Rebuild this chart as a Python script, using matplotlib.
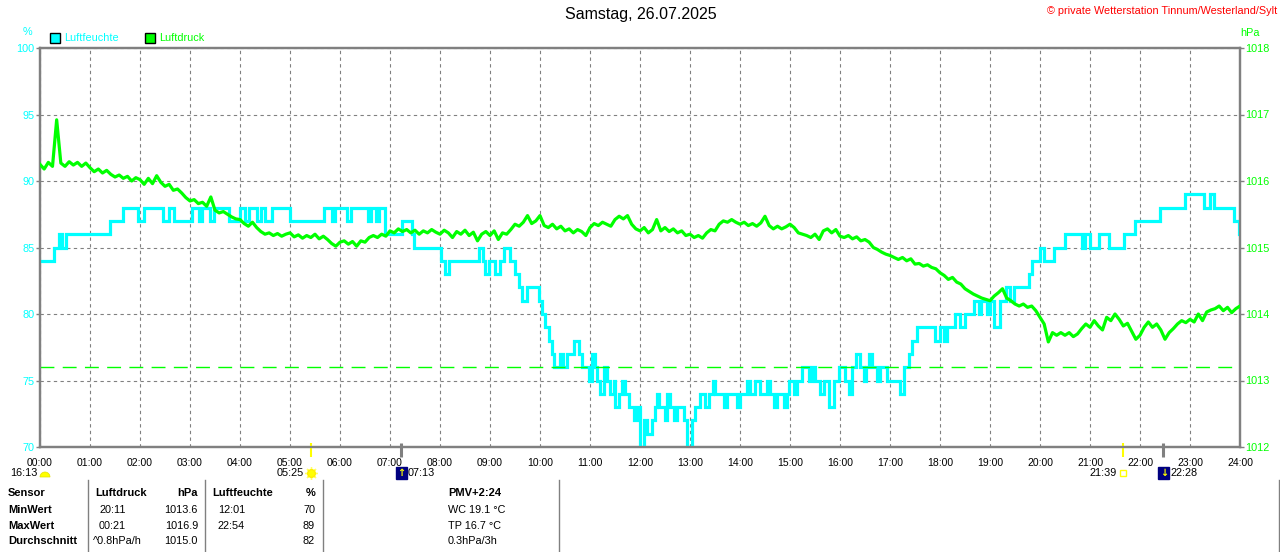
import numpy as np
import matplotlib
matplotlib.use("Agg")
import matplotlib.pyplot as plt
from matplotlib.patches import Rectangle, Wedge
from matplotlib.transforms import blended_transform_factory, offset_copy

plt.rcParams['font.family'] = ['Liberation Sans', 'DejaVu Sans']

CYAN = '#00ffff'
GREEN = '#00ff00'
GRAY = '#808080'

# Luftfeuchte (%) as steps: hour of change, new value
hum_t = [0.00, 0.27, 0.37, 0.43, 0.52, 1.40, 1.65, 1.95, 2.07, 2.45,
         2.57, 2.68, 3.03, 3.17, 3.23, 3.40, 3.47, 3.77, 3.99, 4.10,
         4.17, 4.33, 4.41, 4.50, 4.63, 5.00, 5.68, 5.83, 5.90, 6.13,
         6.21, 6.55, 6.62, 6.72, 6.78, 6.90, 7.23, 7.43, 7.47, 8.03,
         8.10, 8.17, 8.77, 8.87, 8.90, 8.97, 9.10, 9.20, 9.27, 9.40,
         9.50, 9.57, 9.63, 9.73, 9.97, 10.03, 10.10, 10.17, 10.23, 10.28,
         10.40, 10.45, 10.53, 10.67, 10.78, 10.83, 10.97, 11.03, 11.10, 11.13,
         11.20, 11.27, 11.33, 11.40, 11.47, 11.50, 11.57, 11.63, 11.70, 11.77,
         11.87, 11.93, 12.00, 12.07, 12.13, 12.23, 12.30, 12.33, 12.37, 12.50,
         12.53, 12.59, 12.67, 12.73, 12.87, 12.93, 13.03, 13.10, 13.20, 13.30,
         13.37, 13.45, 13.50, 13.67, 13.73, 13.93, 14.00, 14.13, 14.20, 14.30,
         14.40, 14.53, 14.60, 14.67, 14.73, 14.87, 14.93, 14.97, 15.07, 15.13,
         15.23, 15.37, 15.43, 15.50, 15.60, 15.67, 15.77, 15.87, 15.97, 16.10,
         16.17, 16.23, 16.33, 16.40, 16.47, 16.52, 16.57, 16.63, 16.73, 16.80,
         16.93, 17.20, 17.28, 17.37, 17.43, 17.53, 17.90, 18.00, 18.07, 18.13,
         18.30, 18.40, 18.50, 18.67, 18.77, 18.83, 18.93, 19.00, 19.07, 19.19,
         19.33, 19.40, 19.47, 19.77, 19.83, 19.99, 20.07, 20.27, 20.50, 20.83,
         20.90, 21.00, 21.17, 21.37, 21.67, 21.90, 22.40, 22.90, 23.27, 23.39,
         23.48, 23.88, 23.97, 24.00]
hum_v = [84, 85, 86, 85, 86, 87, 88, 87, 88, 87,
         88, 87, 88, 87, 88, 87, 88, 87, 88, 87,
         88, 87, 88, 87, 88, 87, 88, 87, 88, 87,
         88, 87, 88, 87, 88, 86, 87, 86, 85, 84,
         83, 84, 85, 84, 83, 84, 83, 84, 85, 84,
         83, 82, 81, 82, 81, 80, 79, 78, 77, 76,
         77, 76, 77, 78, 77, 76, 75, 77, 76, 75,
         74, 76, 75, 74, 75, 73, 74, 75, 74, 73,
         72, 73, 70, 72, 71, 72, 73, 74, 73, 72,
         74, 73, 72, 73, 72, 70, 72, 73, 74, 73,
         74, 75, 74, 73, 74, 73, 74, 75, 74, 75,
         74, 75, 74, 73, 74, 73, 74, 75, 74, 75,
         76, 75, 76, 75, 74, 75, 73, 75, 76, 75,
         74, 76, 77, 76, 75, 76, 77, 76, 75, 76,
         75, 74, 76, 77, 78, 79, 78, 79, 78, 79,
         80, 79, 80, 81, 80, 81, 80, 81, 79, 81,
         82, 81, 82, 83, 84, 85, 84, 85, 86, 85,
         86, 85, 86, 85, 86, 87, 88, 89, 88, 89,
         88, 87, 86, 86]

# Luftdruck (hPa), one value every 5 minutes from 00:00 to 24:00
press = [
    1016.25, 1016.18, 1016.28, 1016.22, 1016.92, 1016.27, 1016.22, 1016.29, 1016.24, 1016.28, 1016.22, 1016.27,
    1016.20, 1016.14, 1016.18, 1016.12, 1016.16, 1016.10, 1016.06, 1016.09, 1016.04, 1016.07, 1016.00, 1016.05,
    1016.02, 1015.95, 1016.04, 1015.96, 1016.08, 1015.98, 1015.92, 1015.95, 1015.86, 1015.88, 1015.82, 1015.75,
    1015.70, 1015.72, 1015.66, 1015.68, 1015.62, 1015.76, 1015.56, 1015.52, 1015.54, 1015.50, 1015.46, 1015.43,
    1015.42, 1015.36, 1015.32, 1015.38, 1015.30, 1015.24, 1015.20, 1015.22, 1015.18, 1015.21, 1015.17, 1015.20,
    1015.22, 1015.16, 1015.19, 1015.14, 1015.18, 1015.15, 1015.20, 1015.13, 1015.17, 1015.12, 1015.06, 1015.02,
    1015.08, 1015.10, 1015.05, 1015.09, 1015.02, 1015.10, 1015.08, 1015.15, 1015.18, 1015.15, 1015.20, 1015.17,
    1015.25, 1015.22, 1015.28, 1015.24, 1015.27, 1015.22, 1015.26, 1015.20, 1015.25, 1015.22, 1015.27, 1015.23,
    1015.20, 1015.26, 1015.22, 1015.15, 1015.24, 1015.20, 1015.26, 1015.18, 1015.23, 1015.10, 1015.20, 1015.24,
    1015.18, 1015.25, 1015.12, 1015.22, 1015.20, 1015.27, 1015.35, 1015.32, 1015.38, 1015.48, 1015.36, 1015.40,
    1015.48, 1015.33, 1015.30, 1015.35, 1015.28, 1015.32, 1015.25, 1015.28, 1015.22, 1015.27, 1015.24, 1015.18,
    1015.30, 1015.36, 1015.33, 1015.38, 1015.35, 1015.32, 1015.42, 1015.47, 1015.43, 1015.48, 1015.35, 1015.28,
    1015.25, 1015.30, 1015.22, 1015.27, 1015.42, 1015.25, 1015.30, 1015.24, 1015.28, 1015.22, 1015.25, 1015.18,
    1015.20, 1015.15, 1015.18, 1015.14, 1015.22, 1015.27, 1015.25, 1015.35, 1015.40, 1015.38, 1015.42, 1015.38,
    1015.35, 1015.38, 1015.33, 1015.36, 1015.32, 1015.37, 1015.47, 1015.33, 1015.28, 1015.32, 1015.28, 1015.31,
    1015.35, 1015.30, 1015.22, 1015.20, 1015.18, 1015.15, 1015.20, 1015.12, 1015.25, 1015.28, 1015.22, 1015.27,
    1015.17, 1015.15, 1015.18, 1015.13, 1015.16, 1015.10, 1015.12, 1015.08, 1015.00, 1014.97, 1014.93, 1014.90,
    1014.88, 1014.85, 1014.82, 1014.85, 1014.80, 1014.83, 1014.75, 1014.76, 1014.72, 1014.74, 1014.70, 1014.68,
    1014.62, 1014.58, 1014.52, 1014.55, 1014.48, 1014.45, 1014.38, 1014.34, 1014.30, 1014.27, 1014.24, 1014.22,
    1014.20, 1014.27, 1014.32, 1014.38, 1014.24, 1014.20, 1014.15, 1014.12, 1014.15, 1014.10, 1014.12, 1014.05,
    1013.95, 1013.85, 1013.58, 1013.72, 1013.68, 1013.72, 1013.68, 1013.72, 1013.66, 1013.70, 1013.78, 1013.85,
    1013.80, 1013.90, 1013.82, 1013.76, 1013.95, 1013.90, 1014.00, 1013.92, 1013.82, 1013.86, 1013.74, 1013.62,
    1013.68, 1013.80, 1013.88, 1013.80, 1013.85, 1013.76, 1013.62, 1013.72, 1013.78, 1013.85, 1013.90, 1013.87,
    1013.92, 1013.88, 1014.00, 1013.90, 1014.03, 1014.06, 1014.08, 1014.12, 1014.05, 1014.10, 1014.02, 1014.08,
    1014.12]
press_ref = 1013.2

hour_labels = ['%02d:00' % h for h in range(25)]
hum_ticks = [70, 75, 80, 85, 90, 95, 100]
press_ticks = [1012, 1013, 1014, 1015, 1016, 1017, 1018]

# sun / moon events (hour)
sunrise, moonrise, sunset, moonset = 5 + 25/60, 7 + 13/60, 21 + 39/60, 22 + 28/60
day_length = '16:13'

table_rows = [
    ['Sensor', 'Luftdruck', 'hPa', 'Luftfeuchte', '%', 'PMV+2:24'],
    ['MinWert', '20:11', '1013.6', '12:01', '70', 'WC 19.1 °C'],
    ['MaxWert', '00:21', '1016.9', '22:54', '89', 'TP 16.7 °C'],
    ['Durchschnitt', '^0.8hPa/h', '1015.0', '', '82', '0.3hPa/3h'],
]

W, H = 1280, 552
fig = plt.figure(figsize=(W / 100, H / 100), dpi=100)
fig.patch.set_facecolor('white')

ax = fig.add_axes([40 / W, 1 - 447 / H, 1200 / W, 399 / H])
ax2 = ax.twinx()

# humidity
ax.plot(hum_t, hum_v, drawstyle='steps-post', color=CYAN, lw=2.3, zorder=3, solid_joinstyle='miter')
ax.set_xlim(0, 24)
ax.set_ylim(70, 100)

# pressure
pt = np.arange(len(press)) / 12
ax2.plot(pt, press, color=GREEN, lw=2.3, zorder=4)
ax2.axhline(press_ref, color=GREEN, lw=1.0, dashes=(10, 6), zorder=2)
ax2.set_ylim(1012, 1018)

ax.set_xticks(range(25))
ax.set_xticklabels(hour_labels, fontsize=7.5, color='black')
ax.set_yticks(hum_ticks)
ax.set_yticklabels([str(v) for v in hum_ticks], fontsize=7.8, color=CYAN)
ax2.set_yticks(press_ticks)
ax2.set_yticklabels([str(v) for v in press_ticks], fontsize=7.8, color=GREEN)
ax.tick_params(axis='x', length=0, pad=8)
ax.tick_params(axis='y', length=3, width=1, color=GRAY, pad=1)
ax2.tick_params(axis='y', length=3, width=1, color=GRAY, pad=1)
ax.grid(True, color=GRAY, lw=0.8, dashes=(3, 3))
ax.set_axisbelow(True)
for a in (ax, ax2):
    for s in a.spines.values():
        s.set_color(GRAY)
        s.set_linewidth(1.6)

# event markers on the time axis
xt = ax.get_xaxis_transform()
ax.vlines([sunrise, sunset], -10 / 399, 4 / 399, transform=xt, color='#ffff00', lw=1.5, clip_on=False, zorder=6)
ax.vlines([moonrise, moonset], -10 / 399, 4 / 399, transform=xt, color=GRAY, lw=2.2, clip_on=False, zorder=6)

# overlay in pixel coordinates for texts around the chart
ov = fig.add_axes([0, 0, 1, 1], zorder=-1)
ov.set_xlim(0, W)
ov.set_ylim(H, 0)
ov.axis('off')

ov.text(641, 15, 'Samstag, 26.07.2025', ha='center', va='center', fontsize=11.5, color='black')
ov.text(1277, 11, '© private Wetterstation Tinnum/Westerland/Sylt', ha='right', va='center',
        fontsize=7.8, color='#ff0000')
ov.text(27, 32, '%', ha='center', va='center', fontsize=7.8, color=CYAN)
ov.text(1250, 33, 'hPa', ha='center', va='center', fontsize=7.8, color=GREEN)

ov.add_patch(Rectangle((50, 33), 10, 10, fc=CYAN, ec='black', lw=1))
ov.text(64, 38, 'Luftfeuchte', va='center', fontsize=7.8, color=CYAN)
ov.add_patch(Rectangle((145, 33), 10, 10, fc=GREEN, ec='black', lw=1))
ov.text(159, 38, 'Luftdruck', va='center', fontsize=7.8, color=GREEN)

# event labels below the axis
bt = blended_transform_factory(ax.transData, ov.transData)


def shifted(dx):
    return offset_copy(bt, fig=fig, x=dx, units='dots')


ov.text(10, 473, day_length, va='center', fontsize=7.8)
ov.add_patch(Wedge((45, 477), 5, 180, 360, fc='#ffff00', ec='#e0e000', lw=0.5))

ov.text(sunrise, 473, '05:25', ha='right', va='center', fontsize=7.8, transform=shifted(-7))
ov.plot([sunrise], [473], marker=(8, 2, 0), ms=9, mew=1, color='#ffff66', transform=shifted(0), clip_on=False)
ov.plot([sunrise], [473], marker='o', ms=5.5, mfc='#ffff00', mec='#ffee00', transform=shifted(0), clip_on=False)

ov.text(moonrise, 473, '07:13', ha='left', va='center', fontsize=7.8, transform=shifted(7))
ov.text(moonrise, 473, '\u2191', ha='center', va='center', fontsize=7, color='#ffff00', fontweight='bold',
        family='DejaVu Sans', transform=shifted(0.5),
        bbox=dict(boxstyle='square,pad=0.15', fc='#000080', ec='#000080'))

ov.text(sunset, 473, '21:39', ha='right', va='center', fontsize=7.8, transform=shifted(-6))
ov.plot([sunset], [473], marker='s', ms=4, mfc='none', mec='#ffff00', mew=1, transform=shifted(0), clip_on=False)

ov.text(moonset, 473, '22:28', ha='left', va='center', fontsize=7.8, transform=shifted(7))
ov.text(moonset, 473, '\u2193', ha='center', va='center', fontsize=7, color='#ffff00', fontweight='bold',
        family='DejaVu Sans', transform=shifted(0.5),
        bbox=dict(boxstyle='square,pad=0.15', fc='#000080', ec='#000080'))

# table at the bottom
for x in [88, 205, 323, 559, 1279]:
    ov.plot([x, x], [480, 552], color=GRAY, lw=1)

row_y = [493, 510, 526, 541]
for i, row in enumerate(table_rows):
    y = row_y[i]
    size = 8 if i == 0 else 7.8
    weight = 'bold' if i == 0 else 'normal'
    ov.text(8, y, row[0], va='center', fontsize=8, fontweight='bold')
    ov.text(95 if i == 0 else (99 if i < 3 else 93), y, row[1], va='center', fontsize=size, fontweight=weight)
    ov.text(212 if i == 0 else 218, y, row[3], va='center', fontsize=size, fontweight=weight)
    ov.text(198, y, row[2], ha='right', va='center', fontsize=size, fontweight=weight)
    ov.text(315, y, row[4], ha='right', va='center', fontsize=size, fontweight=weight)
    ov.text(448, y, row[5], va='center', fontsize=size, fontweight=weight)

fig.savefig('out.png', dpi=100, facecolor='white')
